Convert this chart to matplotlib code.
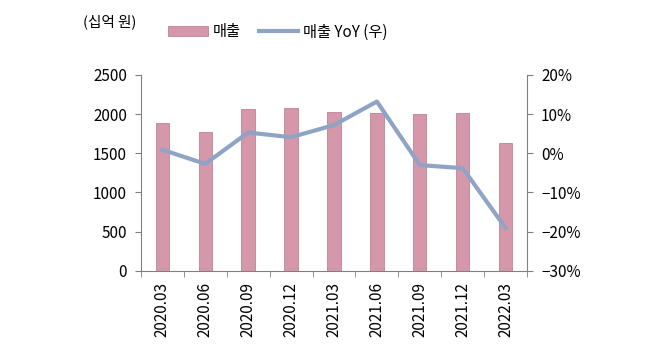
import matplotlib.pyplot as plt
import numpy as np

plt.rcParams['font.family'] = ['Noto Sans CJK KR', 'DejaVu Sans']

quarters = ['2020.03', '2020.06', '2020.09', '2020.12', '2021.03',
            '2021.06', '2021.09', '2021.12', '2022.03']
sales = [1888, 1773, 2062, 2083, 2024, 2015, 1998, 2015, 1633]
yoy = [0.9, -2.7, 5.3, 4.1, 7.2, 13.2, -3.0, -3.8, -19.1]

fig = plt.figure(figsize=(6.46, 3.55), dpi=100)
ax = fig.add_axes([0.218, 0.237, 0.598, 0.552])
ax2 = ax.twinx()

x = np.arange(len(quarters))
bars = ax.bar(x, sales, width=0.31, color='#d597aa', edgecolor='#c08298',
              linewidth=0.6, label='매출', zorder=2)
line, = ax2.plot(x, yoy, color='#8fa4c5', linewidth=3, label='매출 YoY (우)',
                 solid_joinstyle='round', zorder=3)

ax.set_xlim(-0.5, len(quarters) - 0.5)
ax.set_ylim(0, 2500)
ax.set_yticks(np.arange(0, 2501, 500))
ax2.set_ylim(-30, 20)
ax2.set_yticks(np.arange(-30, 21, 10))
ax2.set_yticklabels([f'{v}%'.replace('-', '−') for v in range(-30, 21, 10)])

ax.set_xticks(x)
ax.set_xticklabels(quarters, rotation=90)
ax.set_xticks(np.arange(-0.5, len(quarters)), minor=True)
ax.tick_params(axis='x', which='major', length=0, pad=8)
ax.tick_params(axis='x', which='minor', length=4, color='#808080', direction='out')

for a in (ax, ax2):
    a.spines['top'].set_visible(False)
    for s in ('left', 'right', 'bottom'):
        a.spines[s].set_color('#808080')
    a.tick_params(labelsize=11, colors='black')
ax.spines['right'].set_visible(False)
ax2.spines['left'].set_visible(False)
ax2.spines['bottom'].set_visible(False)
ax.tick_params(axis='y', length=4, color='#808080', pad=6)
ax2.tick_params(axis='y', length=4, color='#808080', pad=6)
ax.set_zorder(ax2.get_zorder() - 1)
ax2.patch.set_visible(False)
ax.patch.set_visible(False)

fig.text(0.128, 0.94, '(십억 원)', fontsize=10.5, ha='left', va='center')
fig.legend([bars, line], ['매출', '매출 YoY (우)'], loc='center',
           bbox_to_anchor=(0.43, 0.91), ncol=2, frameon=False, fontsize=11,
           handlelength=2.6, columnspacing=1.2, handletextpad=0.3)

fig.savefig('out.png', dpi=100)
